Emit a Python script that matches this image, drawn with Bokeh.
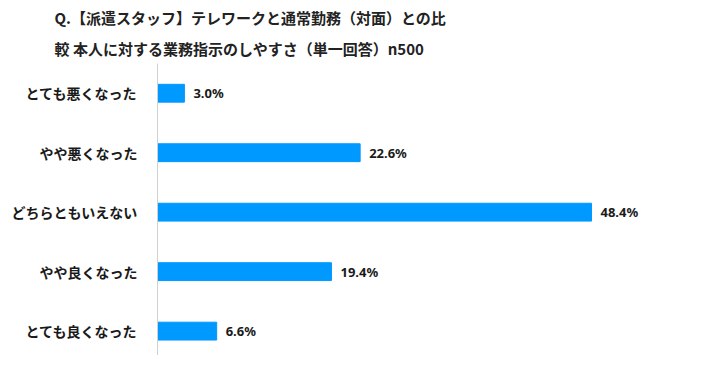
from bokeh.plotting import figure
from bokeh.models import Range1d, FixedTicker, Title, ColumnDataSource, LinearAxis
from bokeh.core.properties import value
from bokeh.embed import file_html
from bokeh.resources import INLINE

categories = ["とても悪くなった", "やや悪くなった", "どちらともいえない", "やや良くなった", "とても良くなった"]
values = [3.0, 22.6, 48.4, 19.4, 6.6]
value_labels = ["3.0%", "22.6%", "48.4%", "19.4%", "6.6%"]
title_lines = ["Q.【派遣スタッフ】テレワークと通常勤務（対面）との比",
               "較 本人に対する業務指示のしやすさ（単一回答）n500"]

pos = list(range(len(categories)))
src = ColumnDataSource(dict(y=pos, v=values, lab=value_labels))

JP = "Noto Sans CJK JP"

p = figure(width=700, height=355, output_backend="svg", toolbar_location=None,
           title=None,
           x_range=Range1d(0, 60), y_range=Range1d(4.41, -0.5),
           x_axis_type=None, y_axis_type=None,
           min_border_left=157, min_border_right=5,
           min_border_top=63, min_border_bottom=0)
p.outline_line_color = None

t2 = Title(text=title_lines[1], align="left", offset=-103, text_font=JP,
           text_font_size="15px", text_font_style="bold", text_color="#222222", standoff=9)
t1 = Title(text=title_lines[0], align="left", offset=-103, text_font=JP,
           text_font_size="15px", text_font_style="bold", text_color="#222222", standoff=7)
p.add_layout(t2, "above")
p.add_layout(t1, "above")

p.hbar(y="y", right="v", left=0, height=0.3, fill_color="#0099FF",
       line_color="#0099FF", source=src)
p.text(x="v", y="y", text="lab", x_offset=9, text_baseline="middle",
       text_font=value("Noto Sans"), text_font_style="bold",
       text_font_size="13px", text_color="#1a1a1a", source=src)

ax = LinearAxis(ticker=FixedTicker(ticks=pos),
                major_label_overrides={i: c for i, c in enumerate(categories)})
ax.major_tick_line_color = None
ax.minor_tick_line_color = None
ax.axis_line_color = "#d0d0d0"
ax.major_label_standoff = 14
ax.major_label_text_font = JP
ax.major_label_text_font_size = "14px"
ax.major_label_text_font_style = "bold"
ax.major_label_text_color = "#1a1a1a"
p.add_layout(ax, "left")

open("out.html", "w").write(file_html(p, INLINE))
